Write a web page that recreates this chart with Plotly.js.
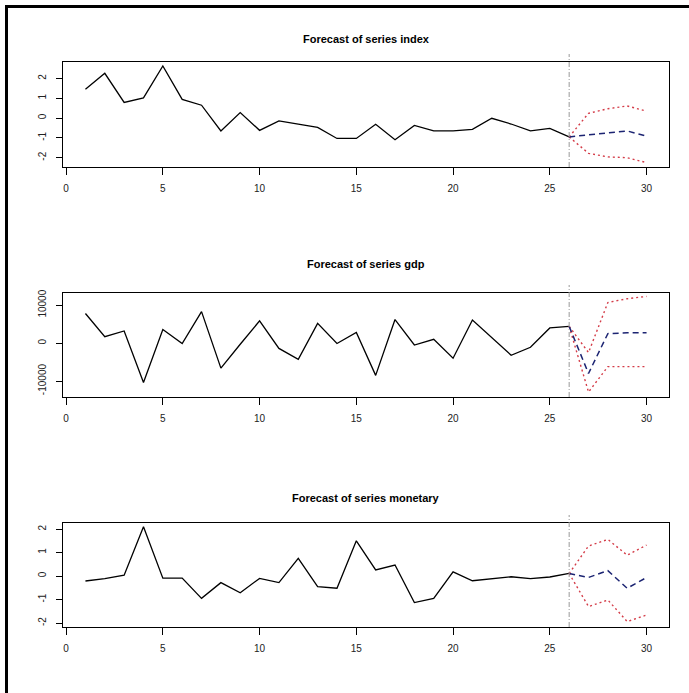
<!DOCTYPE html>
<html>
<head>
<meta charset="utf-8">
<script src="https://cdn.plot.ly/plotly-3.0.1.min.js"></script>
<style>html,body{margin:0;padding:0;background:#fff;}#chart{width:689px;height:693px;}</style>
</head>
<body>
<div id="chart"></div>
<script>
// ---- data ----
const seriesNames = ['index', 'gdp', 'monetary'];
const tObs = [1,2,3,4,5,6,7,8,9,10,11,12,13,14,15,16,17,18,19,20,21,22,23,24,25,26];
const tFc = [26,27,28,29,30];
const xTicks = [0,5,10,15,20,25,30];
const xTickText = ['0','5','10','15','20','25','30'];

const indexObs = [1.45,2.26,0.79,1.02,2.63,0.94,0.65,-0.65,0.28,-0.62,-0.14,-0.30,-0.47,-1.03,-1.03,-0.31,-1.09,-0.37,-0.65,-0.65,-0.57,-0.01,-0.30,-0.65,-0.52,-0.95];
const indexMean = [-0.95,-0.86,-0.75,-0.65,-0.91];
const indexUpper = [-0.95,0.24,0.47,0.61,0.35];
const indexLower = [-0.95,-1.78,-1.96,-2.0,-2.25];

const gdpObs = [7800,1700,3200,-10400,3600,-100,8300,-6600,-300,5850,-1400,-4300,5200,-100,2800,-8500,6200,-500,1000,-4000,6100,1500,-3200,-1100,4000,4400];
const gdpMean = [4400,-8000,2500,2700,2700];
const gdpUpper = [4400,-2500,10700,11700,12300];
const gdpLower = [4400,-12900,-6200,-6200,-6200];

const monObs = [-0.21,-0.11,0.04,2.10,-0.09,-0.09,-0.95,-0.28,-0.71,-0.10,-0.28,0.75,-0.45,-0.52,1.50,0.26,0.47,-1.13,-0.95,0.18,-0.20,-0.11,-0.03,-0.11,-0.04,0.11];
const monMean = [0.11,-0.06,0.23,-0.52,-0.06];
const monUpper = [0.11,1.28,1.56,0.89,1.32];
const monLower = [0.11,-1.30,-1.02,-1.94,-1.66];

const yTicks = [[-2,-1,0,1,2],[-10000,0,10000],[-2,-1,0,1,2]];
const yTickText = [['-2','-1','0','1','2'],['-10000','0','10000'],['-2','-1','0','1','2']];
const yRanges = [[-2.47,2.83],[-14200,13200],[-2.17,2.26]];

const panels = [
  {obs:indexObs, mean:indexMean, up:indexUpper, lo:indexLower},
  {obs:gdpObs, mean:gdpMean, up:gdpUpper, lo:gdpLower},
  {obs:monObs, mean:monMean, up:monUpper, lo:monLower}
];

// ---- layout geometry (pixels) ----
const W = 689, H = 693;
const boxX = [63, 669];
const boxY = [[62,167],[293,397],[523,627]];
const titleY = [39, 264, 498];

const traces = [];
const layout = {
  width: W, height: H,
  margin: {l:0, r:0, t:0, b:0},
  paper_bgcolor: '#ffffff',
  plot_bgcolor: '#ffffff',
  showlegend: false,
  font: {family: 'Liberation Sans, Arial, sans-serif', size: 10, color: '#222'},
  shapes: [],
  annotations: []
};

panels.forEach((p, i) => {
  const k = i === 0 ? '' : String(i + 1);
  const xa = 'x' + k, ya = 'y' + k;
  traces.push({x: tObs, y: p.obs, xaxis: xa, yaxis: ya, type: 'scatter', mode: 'lines',
    line: {color: '#000000', width: 1.3}, hoverinfo: 'skip'});
  traces.push({x: tFc, y: p.up, xaxis: xa, yaxis: ya, type: 'scatter', mode: 'lines',
    line: {color: '#d43c48', width: 1.4, dash: '2px,3px'}, hoverinfo: 'skip'});
  traces.push({x: tFc, y: p.lo, xaxis: xa, yaxis: ya, type: 'scatter', mode: 'lines',
    line: {color: '#d43c48', width: 1.4, dash: '2px,3px'}, hoverinfo: 'skip'});
  traces.push({x: tFc, y: p.mean, xaxis: xa, yaxis: ya, type: 'scatter', mode: 'lines',
    line: {color: '#1c2472', width: 1.5, dash: '6px,4px'}, hoverinfo: 'skip'});

  const yd = [1 - boxY[i][1] / H, 1 - boxY[i][0] / H];
  layout['xaxis' + k] = {
    domain: [boxX[0] / W, boxX[1] / W], anchor: ya,
    range: [-0.16, 31.16], tickmode: 'array', tickvals: xTicks, ticktext: xTickText,
    ticks: 'outside', ticklen: 7, tickwidth: 1, tickcolor: '#000',
    showline: true, mirror: true, linecolor: '#000', linewidth: 1.3,
    showgrid: false, zeroline: false, ticklabelstandoff: 5,
    tickfont: {size: 10, color: '#222'}
  };
  layout['yaxis' + k] = {
    domain: yd, anchor: xa,
    range: yRanges[i], tickmode: 'array', tickvals: yTicks[i], ticktext: yTickText[i],
    tickangle: -90,
    ticks: 'outside', ticklen: 6, tickwidth: 1, tickcolor: '#000',
    showline: true, mirror: true, linecolor: '#000', linewidth: 1.3,
    showgrid: false, zeroline: false, ticklabelstandoff: 6,
    tickfont: {size: 10, color: '#222'}
  };
  // vertical separator at end of observed data
  const h = boxY[i][1] - boxY[i][0];
  layout.shapes.push({type: 'line', xref: xa, yref: ya + ' domain',
    x0: tObs[tObs.length - 1], x1: tObs[tObs.length - 1], y0: 0, y1: 1 + 8 / h,
    line: {color: '#9a9a9a', width: 1, dash: '5px,2px,1px,2px'}});
  layout.annotations.push({xref: 'paper', yref: 'paper',
    x: (boxX[0] + boxX[1]) / 2 / W, y: 1 - titleY[i] / H,
    xanchor: 'center', yanchor: 'middle', showarrow: false,
    text: 'Forecast of series ' + seriesNames[i],
    font: {size: 11, color: '#000', weight: 'bold', family: 'Liberation Sans, Arial, sans-serif'}});
});

// outer frame (left and top edges)
layout.shapes.push({type: 'line', xref: 'paper', yref: 'paper',
  x0: 6.5 / W, x1: 6.5 / W, y0: 0, y1: 1 - 5 / H, line: {color: '#000', width: 3}});
layout.shapes.push({type: 'line', xref: 'paper', yref: 'paper',
  x0: 5 / W, x1: 1, y0: 1 - 6.5 / H, y1: 1 - 6.5 / H, line: {color: '#000', width: 3}});

Plotly.newPlot('chart', traces, layout, {staticPlot: true, displayModeBar: false});
</script>
</body>
</html>
